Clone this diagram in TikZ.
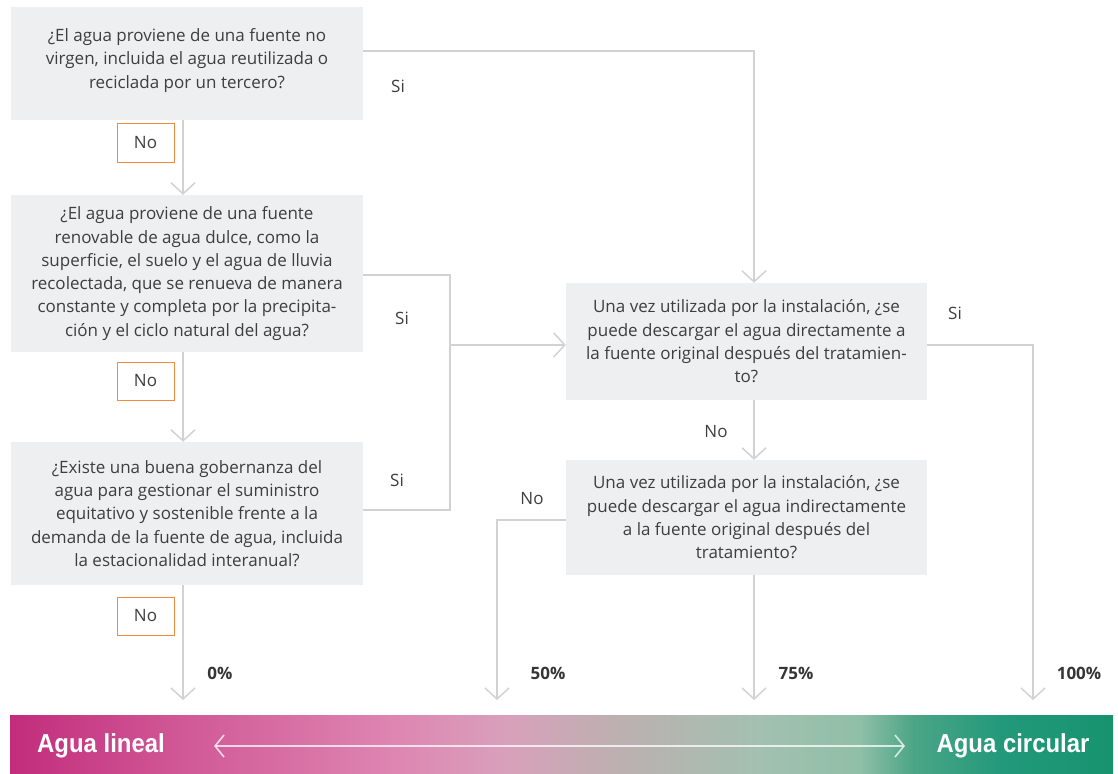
\documentclass[tikz,border=0pt]{standalone}
\usepackage{fontspec}
\setmainfont{Open Sans}
\newfontfamily\barfont[FakeStretch=0.92]{Liberation Sans Bold}
\usetikzlibrary{arrows.meta}

\definecolor{boxfill}{HTML}{EDEFF1}
\definecolor{linegray}{HTML}{D2D2D2}
\definecolor{txt}{HTML}{3E3E3E}
\definecolor{noorange}{HTML}{F08A3C}
\definecolor{m0}{HTML}{C22C7C}
\definecolor{m1}{HTML}{D05795}
\definecolor{m2}{HTML}{DE86B2}
\definecolor{m3}{HTML}{D8A0BB}
\definecolor{n0}{HTML}{BDB0B0}
\definecolor{g0}{HTML}{A3C0B0}
\definecolor{g1}{HTML}{90BFA8}
\definecolor{g2}{HTML}{4AA585}
\definecolor{g3}{HTML}{22997A}
\definecolor{g4}{HTML}{17936F}

% the shading's middle half (25bp..75bp) spans the bar
\pgfdeclarehorizontalshading{waterbar}{100bp}{%
  color(0bp)=(m0); color(25bp)=(m0); color(32.5bp)=(m1);
  color(42.5bp)=(m2); color(47.5bp)=(m3); color(52.5bp)=(n0);
  color(59bp)=(g0); color(63.5bp)=(g1); color(66bp)=(g2);
  color(70bp)=(g3); color(75bp)=(g4); color(100bp)=(g4)}

\tikzset{
  qbox/.style={fill=boxfill, inner sep=0pt, align=center, text=txt,
    font=\fontsize{17}{23.3}\selectfont},
  nobox/.style={draw=noorange, line width=1pt, fill=white, text=txt,
    minimum width=57pt, minimum height=38pt, inner sep=0pt,
    font=\fontsize{17}{20}\selectfont},
  lbl/.style={text=txt, inner sep=0pt, font=\fontsize{17}{20}\selectfont},
  pct/.style={text=txt!85!black, inner sep=0pt, font=\fontsize{17}{20}\selectfont\bfseries},
  conn/.style={draw=linegray, line width=1.5pt},
  tip/.style={-{Straight Barb[length=11pt,width=24pt]}},
  bartext/.style={text=white, inner sep=0pt, font=\fontsize{26}{30}\barfont},
}

\begin{document}
\begin{tikzpicture}[x=1pt,y=-1pt]
\useasboundingbox (0,0) rectangle (1118,773);

% question boxes
\node[qbox, minimum width=352pt, minimum height=113pt] (q1) at (187,63.5)
  {¿El agua proviene de una fuente no\\virgen, incluida el agua reutilizada o\\reciclada por un tercero?\\[-13pt]};
\node[qbox, minimum width=352pt, minimum height=157pt] (q2) at (187,273.5)
  {¿El agua proviene de una fuente\\renovable de agua dulce, como la\\superficie, el suelo y el agua de lluvia\\recolectada, que se renueva de manera\\constante y completa por la precipita-\\ción y el ciclo natural del agua?};
\node[qbox, minimum width=352pt, minimum height=143pt] (q3) at (187,513.5)
  {¿Existe una buena gobernanza del\\agua para gestionar el suministro\\equitativo y sostenible frente a la\\demanda de la fuente de agua, incluida\\la estacionalidad interanual?};
\node[qbox, minimum width=361pt, minimum height=117pt] (q4) at (746.5,341.5)
  {Una vez utilizada por la instalación, ¿se\\puede descargar el agua directamente a\\la fuente original después del tratamien-\\to?};
\node[qbox, minimum width=361pt, minimum height=115pt] (q5) at (746.5,517.5)
  {Una vez utilizada por la instalación, ¿se\\puede descargar el agua indirectamente\\a la fuente original después del\\tratamiento?};

% answer labels
\node[nobox] (no1) at (145.5,143) {No};
\node[nobox] (no2) at (145.5,381) {No};
\node[nobox] (no3) at (145.5,616) {No};
\node[lbl] (si1) at (398,86) {Si};
\node[lbl] (si2) at (402,318) {Si};
\node[lbl] (si3) at (397,480) {Si};
\node[lbl] (si4) at (955,313) {Si};
\node[lbl] (no4) at (716,432) {No};
\node[lbl] (no5) at (532,499) {No};

% outcome percentages
\node[pct] (p0) at (220,673) {0\%};
\node[pct] (p50) at (548,673) {50\%};
\node[pct] (p75) at (796,673) {75\%};
\node[pct] (p100) at (1079,673) {100\%};

% arrow ends above the scale bar
\coordinate (e0) at (183,700);
\coordinate (e50) at (497,700);
\coordinate (e75) at (754,700);
\coordinate (e100) at (1033,700);
\coordinate (j) at (450,345);

% connectors
\draw[conn, tip] ([yshift=12.5pt]q1.east) -| ([xshift=7.5pt]q4.north);
\draw[conn, tip] ([xshift=-4pt]q1.south) -- ([xshift=-4pt]q2.north);
\draw[conn, tip] ([xshift=-4pt]q2.south) -- ([xshift=-4pt]q3.north);
\draw[conn, tip] ([xshift=-4pt]q3.south) -- (e0);
\draw[conn] ([yshift=-1.5pt]q2.east) -| (j);
\draw[conn] ([yshift=3.5pt]q3.east) -| (j);
\draw[conn, tip] (j) -- (j -| q4.west);
\draw[conn, tip] ([yshift=-3.5pt]q4.east) -| (e100);
\draw[conn, tip] ([xshift=7.5pt]q4.south) -- ([xshift=7.5pt]q5.north);
\draw[conn, tip] ([yshift=-2.5pt]q5.west) -| (e50);
\draw[conn, tip] ([xshift=7.5pt]q5.south) -- (e75);

% linear-to-circular scale bar
\shade[shading=waterbar] (10,715) rectangle (1113,773);
\node[bartext] (lin) at (101,746) {Agua lineal};
\node[bartext] (circ) at (1013,746) {Agua circular};
\coordinate (la) at (214,746);
\coordinate (ra) at (905,746);
\draw[white, opacity=.75, line width=1.6pt,
  {Straight Barb[length=9pt,width=22pt]}-{Straight Barb[length=9pt,width=22pt]}]
  (la) -- (ra);
\end{tikzpicture}
\end{document}
